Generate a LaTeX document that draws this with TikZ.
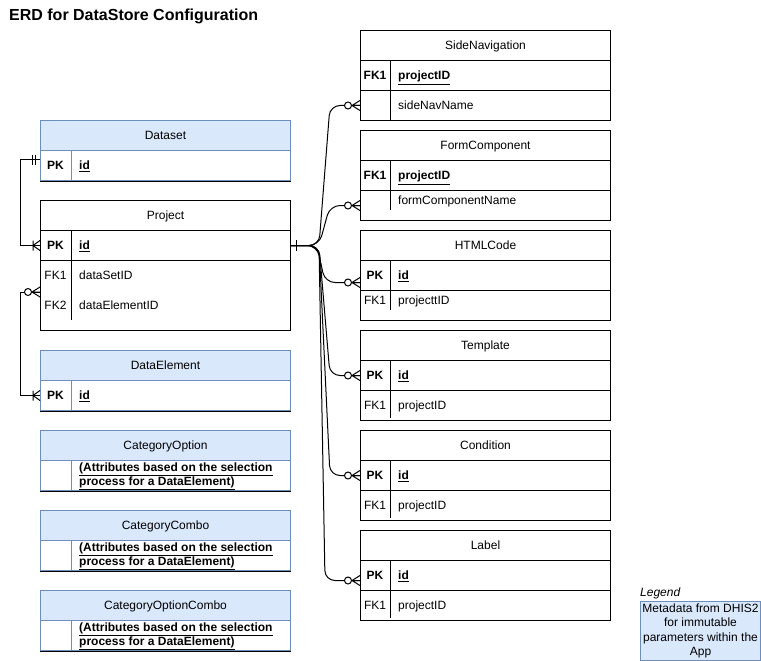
\documentclass[tikz,border=0pt]{standalone}
\usepackage{fontspec}
\setmainfont{Liberation Sans}
\usetikzlibrary{calc}
\definecolor{bfill}{HTML}{DAE8FC}
\definecolor{bstroke}{HTML}{6C8EBF}
\newcommand\fsz{\fontsize{12bp}{14.3bp}\selectfont}
\begin{document}
\begin{tikzpicture}[x=1bp,y=-1bp,
  every node/.style={font=\fsz, inner sep=0pt},
  txt/.style={text height=10.9bp, text depth=2.2bp},
  tb/.style={draw=black, line width=1bp, rectangle, anchor=north west, minimum width=250bp, minimum height=30bp, txt},
  bh/.style={tb, draw=bstroke, fill=bfill},
  br/.style={tb, draw=bstroke},
  kt/.style={anchor=center, txt},
  fldt/.style={anchor=west, txt},
  attr/.style={anchor=west, align=left, font=\bfseries\fontsize{12bp}{14bp}\selectfont},
  dv/.style={line width=1bp, draw=black},
  bdv/.style={line width=1bp, draw=bstroke},
  conn/.style={line width=1bp, draw=black},
  fan/.style={conn, rounded corners=10bp},
  zmany/.pic={\draw[conn] (0,-5)--(-8,0)--(0,5) (0,0)--(-8,0); \draw[conn,fill=white] (-12,0) circle[radius=3.5bp];},
  omany/.pic={\draw[conn] (0,-5)--(-7,0)--(0,5) (-7,-5)--(-7,5);},
  mone/.pic={\draw[conn] (-5,-5)--(-5,5) (-8,-5)--(-8,5);},
  onebar/.pic={\draw[conn] (-5,-5.5)--(-5,5.5);}
]
\useasboundingbox (0,0) rectangle (761,661);

% title
\node[anchor=west, font=\bfseries\fontsize{16bp}{19bp}\selectfont] (title) at (9,16) {ERD for DataStore Configuration};

% ---------- Dataset
\node[bh] (dsh) at (40,120) {Dataset};
\node[br] (dsr) at (40,150) {};
\draw[dv] (dsr.south west) -- (dsr.south east);
\draw[bdv] ([xshift=31bp]dsr.north west) -- ([xshift=31bp]dsr.south west);
\node[kt] (dsk) at ([xshift=15.5bp]dsr.west) {\textbf{PK}};
\node[fldt] (dsf) at ([xshift=39bp]dsr.west) {\textbf{\underline{id}}};

% ---------- Project
\node[tb, minimum height=130bp] (pj) at (40,200) {};
\node[tb] (pjh) at (40,200) {Project};
\node[tb] (pjpk) at (40,230) {};
\draw[dv] ([xshift=31bp]pjpk.north west) -- ++(0,90);
\node[kt] (pjk) at ([xshift=15.5bp]pjpk.west) {\textbf{PK}};
\node[fldt] (pjf) at ([xshift=39bp]pjpk.west) {\textbf{\underline{id}}};
\node[kt] (pjk1) at (55.5,275) {FK1};
\node[fldt] (pjf1) at (79,275) {dataSetID};
\node[kt] (pjk2) at (55.5,305) {FK2};
\node[fldt] (pjf2) at (79,305) {dataElementID};

% ---------- DataElement
\node[bh] (deh) at (40,350) {DataElement};
\node[br] (der) at (40,380) {};
\draw[dv] (der.south west) -- (der.south east);
\draw[bdv] ([xshift=31bp]der.north west) -- ([xshift=31bp]der.south west);
\node[kt] (dek) at ([xshift=15.5bp]der.west) {\textbf{PK}};
\node[fldt] (def) at ([xshift=39bp]der.west) {\textbf{\underline{id}}};

% ---------- CategoryOption
\node[bh] (coh) at (40,430) {CategoryOption};
\node[br] (cor) at (40,460) {};
\draw[dv] (cor.south west) -- (cor.south east);
\draw[bdv] ([xshift=31bp]cor.north west) -- ([xshift=31bp]cor.south west);
\node[attr] (cof) at ([xshift=39bp,yshift=-1bp]cor.west) {\underline{(Attributes based on the selection}\\\underline{process for a DataElement)}};

% ---------- CategoryCombo
\node[bh] (cch) at (40,510) {CategoryCombo};
\node[br] (ccr) at (40,540) {};
\draw[dv] (ccr.south west) -- (ccr.south east);
\draw[bdv] ([xshift=31bp]ccr.north west) -- ([xshift=31bp]ccr.south west);
\node[attr] (ccf) at ([xshift=39bp,yshift=-1bp]ccr.west) {\underline{(Attributes based on the selection}\\\underline{process for a DataElement)}};

% ---------- CategoryOptionCombo
\node[bh] (coch) at (40,590) {CategoryOptionCombo};
\node[br] (cocr) at (40,620) {};
\draw[dv] (cocr.south west) -- (cocr.south east);
\draw[bdv] ([xshift=31bp]cocr.north west) -- ([xshift=31bp]cocr.south west);
\node[attr] (cocf) at ([xshift=39bp,yshift=-1bp]cocr.west) {\underline{(Attributes based on the selection}\\\underline{process for a DataElement)}};

% ---------- SideNavigation
\node[tb] (snh) at (360,30) {SideNavigation};
\node[tb] (sn1) at (360,60) {};
\node[tb] (sn2) at (360,90) {};
\draw[dv] (390,60) -- (390,120);
\node[kt] (sn1k) at ([xshift=15bp]sn1.west) {\textbf{FK1}};
\node[fldt] (sn1f) at ([xshift=38bp]sn1.west) {\textbf{\underline{projectID}}};
\node[fldt] (sn2f) at ([xshift=38bp]sn2.west) {sideNavName};

% ---------- FormComponent
\node[tb] (fch) at (360,130) {FormComponent};
\node[tb] (fc1) at (360,160) {};
\node[tb] (fc2) at (360,190) {};
\draw[dv] (390,160) -- (390,210);
\node[kt] (fc1k) at ([xshift=15bp]fc1.west) {\textbf{FK1}};
\node[fldt] (fc1f) at ([xshift=38bp]fc1.west) {\textbf{\underline{projectID}}};
\node[fldt] (fc2f) at ([xshift=38bp,yshift=5bp]fc2.west) {formComponentName};

% ---------- HTMLCode
\node[tb] (hch) at (360,230) {HTMLCode};
\node[tb] (hc1) at (360,260) {};
\node[tb] (hc2) at (360,290) {};
\draw[dv] (390,260) -- (390,310);
\node[kt] (hc1k) at ([xshift=15bp]hc1.west) {\textbf{PK}};
\node[fldt] (hc1f) at ([xshift=38bp]hc1.west) {\textbf{\underline{id}}};
\node[kt] (hc2k) at ([xshift=15bp,yshift=5bp]hc2.west) {FK1};
\node[fldt] (hc2f) at ([xshift=38bp,yshift=5bp]hc2.west) {projecttID};

% ---------- Template
\node[tb] (tph) at (360,330) {Template};
\node[tb] (tp1) at (360,360) {};
\node[tb] (tp2) at (360,390) {};
\draw[dv] (390,360) -- (390,418);
\node[kt] (tp1k) at ([xshift=15bp]tp1.west) {\textbf{PK}};
\node[fldt] (tp1f) at ([xshift=38bp]tp1.west) {\textbf{\underline{id}}};
\node[kt] (tp2k) at ([xshift=15bp]tp2.west) {FK1};
\node[fldt] (tp2f) at ([xshift=38bp]tp2.west) {projectID};

% ---------- Condition
\node[tb] (cdh) at (360,430) {Condition};
\node[tb] (cd1) at (360,460) {};
\node[tb] (cd2) at (360,490) {};
\draw[dv] (390,460) -- (390,518);
\node[kt] (cd1k) at ([xshift=15bp]cd1.west) {\textbf{PK}};
\node[fldt] (cd1f) at ([xshift=38bp]cd1.west) {\textbf{\underline{id}}};
\node[kt] (cd2k) at ([xshift=15bp]cd2.west) {FK1};
\node[fldt] (cd2f) at ([xshift=38bp]cd2.west) {projectID};

% ---------- Label
\node[tb] (lbh) at (360,530) {Label};
\node[tb] (lb1) at (360,560) {};
\node[tb] (lb2) at (360,590) {};
\draw[dv] (390,560) -- (390,618);
\node[kt] (lb1k) at ([xshift=15bp]lb1.west) {\textbf{PK}};
\node[fldt] (lb1f) at ([xshift=38bp]lb1.west) {\textbf{\underline{id}}};
\node[kt] (lb2k) at ([xshift=15bp]lb2.west) {FK1};
\node[fldt] (lb2f) at ([xshift=38bp]lb2.west) {projectID};

% ---------- Legend
\node[anchor=south west, font=\itshape\fsz] (legt) at (640,599) {Legend};
\node[draw=bstroke, fill=bfill, line width=1bp, anchor=north west, minimum width=120bp, minimum height=59bp, align=center] (leg) at (640,601) {Metadata from DHIS2\\for immutable\\parameters within the\\App};

% ---------- connectors left
\coordinate (dsin) at ([yshift=6bp]dsr.west);
\coordinate (fkin) at ([yshift=-31bp]pjpk.south west);
\draw[conn] (dsin) -- ++(-20,0) |- (pjpk.west);
\draw[conn] (fkin) -- ++(-20,0) |- (der.west);
\pic at (dsin) {mone};
\pic at (pjpk.west) {omany};
\pic at (fkin) {zmany};
\pic at (der.west) {omany};

% ---------- connectors right
\coordinate (hcin) at ([yshift=-7bp]hc1.west);
\coordinate (lbin) at ([yshift=-5bp]lb1.west);
\draw[fan] (pjpk.east) -- ++(28,0) -- ([xshift=-30bp]sn2.west) -- (sn2.west);
\draw[fan] (pjpk.east) -- ++(28,0) -- ([xshift=-30bp]fc2.west) -- (fc2.west);
\draw[fan] (pjpk.east) -- ++(26,0) -- ([xshift=-35bp]hcin) -- (hcin);
\draw[fan] (pjpk.east) -- ++(28,0) -- ([xshift=-30bp]tp1.west) -- (tp1.west);
\draw[fan] (pjpk.east) -- ++(28,0) -- ([xshift=-30bp]cd1.west) -- (cd1.west);
\draw[fan] (pjpk.east) -- ++(28,0) -- ([xshift=-35bp]lbin) -- (lbin);
\pic[rotate=180] at (pjpk.east) {onebar};
\pic at (sn2.west) {zmany};
\pic at (fc2.west) {zmany};
\pic at (hcin) {zmany};
\pic at (tp1.west) {zmany};
\pic at (cd1.west) {zmany};
\pic at (lbin) {zmany};
\end{tikzpicture}
\end{document}
